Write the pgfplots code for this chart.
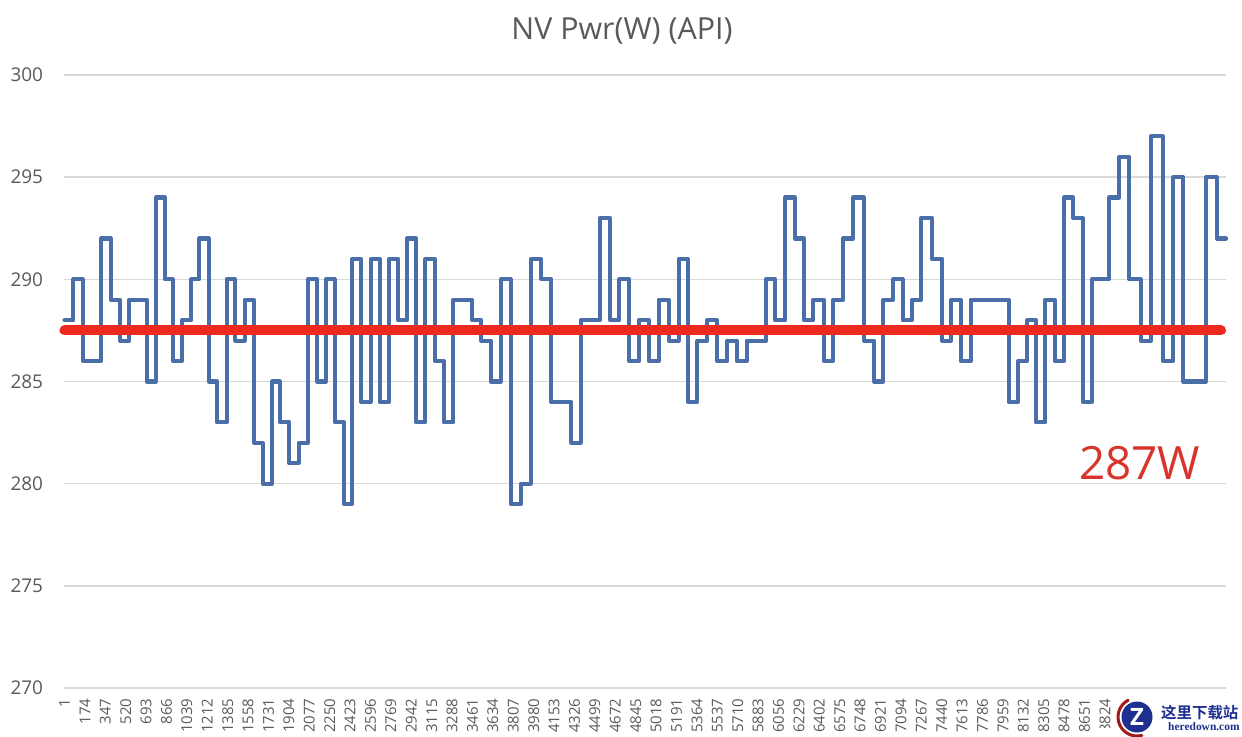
\documentclass[border=0pt]{standalone}
\usepackage{fontspec}
\setmainfont{Open Sans}
\newfontfamily\cjk{Noto Sans CJK SC}[BoldFont=* Bold]
\newfontfamily\wmserif{Liberation Serif}
\usepackage{pgfplots}
\pgfplotsset{compat=1.18}
\definecolor{txtgray}{HTML}{595959}
\definecolor{gridgray}{HTML}{D9D9D9}
\definecolor{pwrblue}{HTML}{4A6FA8}
\definecolor{avgred}{HTML}{EE2A1E}
\definecolor{lblred}{HTML}{D9342B}
\definecolor{wmblue}{HTML}{1F2F8F}
\definecolor{wmred}{HTML}{9E1B1B}
\begin{document}
\begin{tikzpicture}
  \path[use as bounding box] (-64.5bp,-49bp) rectangle (1177.5bp,688bp);
  \begin{axis}[
    scale only axis,
    width=1161.5bp, height=613bp,
    xmin=1, xmax=9851,
    ymin=270, ymax=300,
    clip=false,
    axis line style={draw=none},
    major tick length=0pt,
    ytick={270,275,280,285,290,295,300},
    xtick={1,174,...,8824},
    ymajorgrids,
    grid style={gridgray, line width=1.4bp},
    /pgf/number format/assume math mode=true,
    /pgf/number format/1000 sep={},
    /pgf/number format/fixed,
    /pgf/number format/precision=0,
    yticklabel style={font=\fontsize{19}{19}\selectfont, text=txtgray, xshift=-18bp},
    xticklabel style={font=\fontsize{15}{15}\selectfont, text=txtgray, rotate=90, anchor=east, xshift=-7bp},
    title={NV Pwr(W) (API)},
    title style={at={(0.48,1)}, anchor=base, yshift=30bp, font=\fontsize{30.5}{30.5}\selectfont, text=txtgray},
  ]
    % power trace
    \addplot[const plot, color=pwrblue, line width=4.2bp, line join=round, line cap=round] coordinates {
      (1,288)(76,290)(155,286)(313,292)(393,289)(472,287)(551,289)(698,285)(777,294)(851,290)
      (919,286)(997,288)(1076,290)(1144,292)(1224,285)(1292,283)(1376,290)(1449,287)(1529,289)(1608,282)
      (1682,280)(1761,285)(1828,283)(1907,281)(1987,282)(2066,290)(2145,285)(2219,290)(2292,283)(2371,279)
      (2439,291)(2518,284)(2598,291)(2676,284)(2755,291)(2829,288)(2903,292)(2982,283)(3061,291)(3140,286)
      (3219,283)(3298,289)(3457,288)(3535,287)(3615,285)(3700,290)(3785,279)(3870,280)(3954,291)(4044,290)
      (4129,284)(4299,282)(4378,288)(4542,293)(4627,288)(4706,290)(4791,286)(4870,288)(4955,286)(5040,289)
      (5125,287)(5209,291)(5288,284)(5367,287)(5452,288)(5537,286)(5622,287)(5701,286)(5786,287)(5950,290)
      (6029,288)(6113,294)(6193,292)(6272,288)(6351,289)(6442,286)(6520,289)(6605,292)(6690,294)(6781,287)
      (6866,285)(6944,289)(7029,290)(7109,288)(7188,289)(7267,293)(7357,291)(7442,287)(7521,289)(7601,286)
      (7686,289)(8008,284)(8087,286)(8166,288)(8239,283)(8318,289)(8398,286)(8477,294)(8556,293)(8635,284)
      (8714,290)(8861,294)(8946,296)(9031,290)(9127,287)(9217,297)(9314,286)(9404,295)(9488,285)(9681,295)
      (9772,292)(9851,292)
    };
    % average line
    \addplot[color=avgred, line width=10bp, line cap=round] coordinates {(1,287.5)(9808,287.5)};
    \node[text=lblred, font=\fontsize{46}{46}\selectfont, inner sep=0pt] at (axis cs:9120,281) {287W};
  \end{axis}
  % site watermark, bottom right corner
  \fill[white] (1033bp,-49bp) rectangle (1177.5bp,-40bp);
  \draw[wmred, line width=3bp, line cap=round] (1072.5bp,-29bp) ++(118:19bp) arc[start angle=118, end angle=285, radius=19bp];
  \fill[wmblue] (1072.5bp,-29bp) circle[radius=15.5bp];
  \node[white, font=\bfseries\fontsize{24}{24}\selectfont, inner sep=0pt] at (1072.5bp,-29bp) {Z};
  \node[text=wmblue, font=\cjk\bfseries\fontsize{15.5}{15.5}\selectfont, inner sep=0pt, anchor=west] at (1096.5bp,-25bp) {这里下载站};
  \node[text=wmblue, font=\wmserif\bfseries\fontsize{11.5}{11.5}\selectfont, inner sep=0pt, anchor=west] at (1103.5bp,-39bp) {heredown.com};
\end{tikzpicture}
\end{document}
